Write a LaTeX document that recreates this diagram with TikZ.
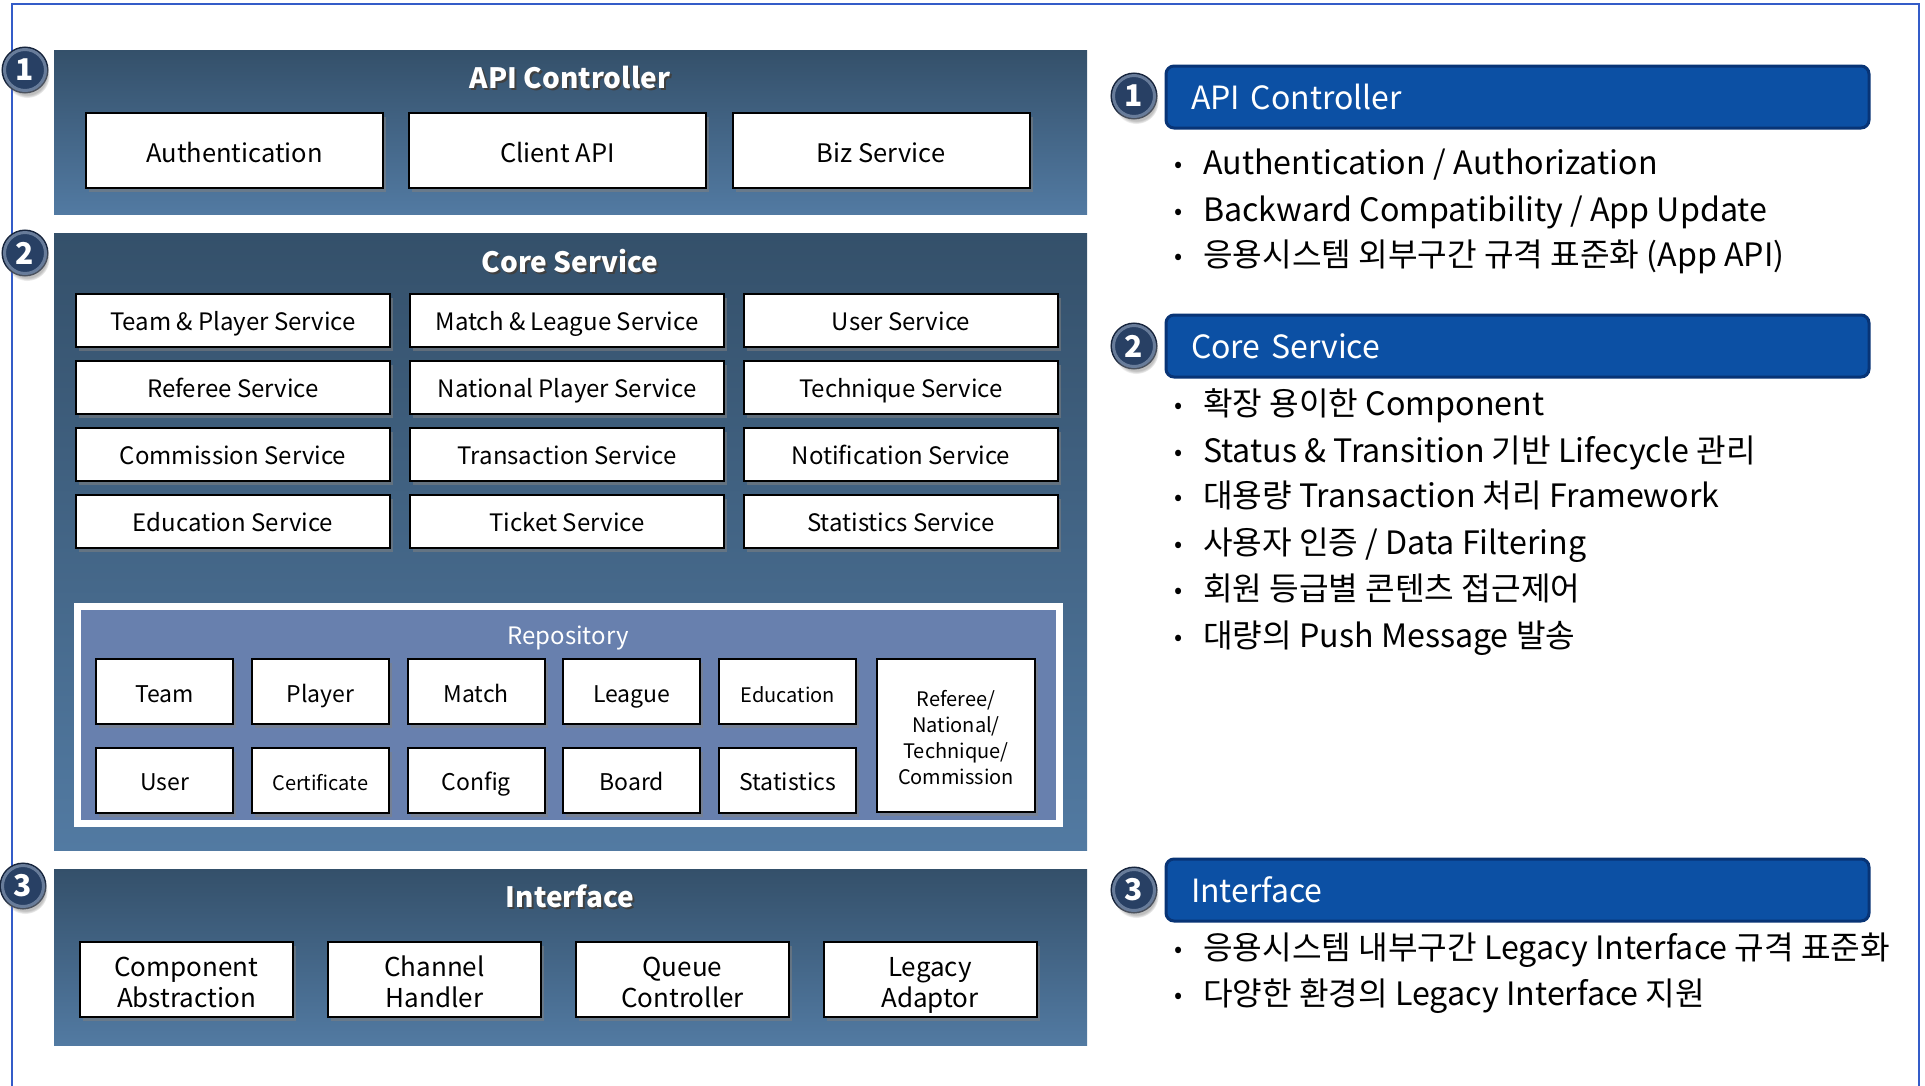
\documentclass[tikz,border=0pt]{standalone}
\usepackage{fontspec}
\setmainfont{Noto Sans CJK KR}
\usetikzlibrary{shadows, positioning, calc}

\definecolor{paneltop}{RGB}{52,80,106}
\definecolor{panelbot}{RGB}{82,122,162}
\definecolor{repofill}{RGB}{104,128,174}
\definecolor{headblue}{RGB}{12,80,164}
\definecolor{headedge}{RGB}{8,52,118}
\definecolor{badgefill}{RGB}{40,64,100}
\definecolor{badgerim}{RGB}{104,124,154}
\definecolor{badgedark}{RGB}{22,36,60}
\definecolor{framebl}{RGB}{52,92,200}

\newcommand{\shtitle}[1]{\makebox[0pt][l]{\raisebox{-2pt}{\hspace{2pt}\color{black!75}#1}}#1}
\newcommand{\bul}{\makebox[29pt][l]{\raisebox{2pt}{\fontsize{24}{24}\selectfont•}}}

\begin{document}
\begin{tikzpicture}[
    x=1pt, y=-1pt,
    panel/.style={rectangle, top color=paneltop, bottom color=panelbot, draw=none, anchor=north west, inner sep=0pt, outer sep=0pt},
    title/.style={text=white, font=\fontsize{28}{32}\selectfont\bfseries},
    wbox/.style={rectangle, draw=black, line width=2pt, fill=white, align=center, inner sep=0pt,
        drop shadow={opacity=0.55, shadow xshift=3pt, shadow yshift=-4pt}},
    apibox/.style={wbox, minimum width=297pt, minimum height=75pt, text height=24pt, text depth=0pt,
        font=\fontsize{25.5}{30}\selectfont},
    svcbox/.style={wbox, minimum width=314pt, minimum height=53pt, text height=21pt, text depth=0pt,
        font=\fontsize{24}{28}\selectfont},
    repobox/.style={wbox, minimum width=137pt, minimum height=65pt, text height=21pt, text depth=0pt,
        font=\fontsize{23}{27}\selectfont},
    ifbox/.style={wbox, minimum width=213pt, minimum height=75pt, text height=55pt, text depth=0pt,
        font=\fontsize{26}{31}\selectfont},
    badge/.style={circle, fill=badgefill, draw=badgerim, line width=3pt, minimum size=41pt, inner sep=0pt,
        preaction={draw=badgedark, line width=6pt},
        text=white, font=\fontsize{30}{32}\selectfont\bfseries,
        circular drop shadow={opacity=0.5, shadow xshift=2pt, shadow yshift=-5pt}},
    headbar/.style={rectangle, rounded corners=8pt, fill=headblue, draw=headedge, line width=3pt,
        anchor=north west, outer sep=0pt, minimum height=62pt, text width=653pt, inner xsep=25pt, align=left,
        text=white, font=\fontsize{32}{36}\selectfont},
    bullet/.style={anchor=base west, inner sep=0pt, font=\fontsize{32.2}{38}\selectfont},
]

\useasboundingbox (0,0) rectangle (1925,1085);
\fill[white] (0,0) rectangle (1925,1085);

% outer frame
\coordinate (fbl) at (12,1095);
\coordinate (ftl) at (12,4);
\coordinate (ftr) at (1919,4);
\coordinate (fbr) at (1919,1095);
\draw[framebl, line width=2pt] (fbl) -- (ftl) -- (ftr) -- (fbr);

% left: layered panels
\node[panel, minimum width=1033pt, minimum height=164pt] (apipanel) at (54,50) {};
\node[panel, minimum width=1033pt, minimum height=617pt] (corepanel) at (54,233) {};
\node[panel, minimum width=1033pt, minimum height=176pt] (ifpanel) at (54,869) {};

\node[badge] (b1) at (25,70) {1};
\node[badge] (b2) at (25,253) {2};
\node[badge] (b3) at (23,886) {3};

\node[title] (apititle) at (570,79) {\shtitle{API Controller}};
\node[apibox] (auth) at (234.5,150.5) {Authentication};
\node[apibox] (client) at (557.5,150.5) {Client API};
\node[apibox] (biz) at (881,150.5) {Biz Service};

\node[title] (coretitle) at (570,262) {\shtitle{Core Service}};
\foreach \name [count=\i from 0] in {Team \& Player Service, Match \& League Service, User Service,
    Referee Service, National Player Service, Technique Service,
    Commission Service, Transaction Service, Notification Service,
    Education Service, Ticket Service, Statistics Service} {
  \pgfmathtruncatemacro{\col}{mod(\i,3)}
  \pgfmathtruncatemacro{\row}{div(\i,3)}
  \node[svcbox] (svc\i) at (233+334*\col, 320+67*\row) {\name};
}

% repository
\node[rectangle, draw=white, line width=7pt, fill=repofill, minimum width=982pt, minimum height=217pt,
    anchor=north west, inner sep=0pt, outer sep=0pt, drop shadow={opacity=0.35, shadow xshift=2pt, shadow yshift=-3pt}]
    (repo) at (77.5,606.5) {};
\node[text=white, font=\fontsize{24}{28}\selectfont] (repotitle) at (568,637.5) {Repository};
\foreach \name [count=\i from 0] in {Team, Player, Match, League, {\fontsize{20}{24}\selectfont Education}} {
  \node[repobox] (ra\i) at (164.5+155.8*\i, 691.5) {\name};
}
\foreach \name [count=\i from 0] in {User, {\fontsize{20}{24}\selectfont Certificate}, Config, Board, Statistics} {
  \node[repobox] (rb\i) at (164.5+155.8*\i, 780) {\name};
}
\node[wbox, minimum width=158pt, minimum height=153pt, text height=97pt, text depth=0pt,
    font=\fontsize{20}{26}\selectfont] (rmix) at (956,735.5)
    {Referee/\\National/\\Technique/\\Commission};

\node[title] (iftitle) at (570,897) {\shtitle{Interface}};
\node[ifbox] (comp) at (186.5,979.5) {Component\\Abstraction};
\node[ifbox] (chan) at (434.5,979.5) {Channel\\Handler};
\node[ifbox] (queue) at (682.5,979.5) {Queue\\Controller};
\node[ifbox] (legacy) at (930,979.5) {Legacy\\Adaptor};

% right: descriptions
\node[badge] (rb1) at (1134,96) {1};
\node[headbar] (h1) at (1166,66) {API Controller};
\node[bullet] (t11) at (1174,174) {\bul Authentication /\hspace{8pt}Authorization};
\node[bullet] (t12) at (1174,221) {\bul Backward Compatibility / App Update};
\node[bullet] (t13) at (1174,266) {\bul 응용시스템 외부구간 규격 표준화 (App API)};

\node[badge] (rb2) at (1134,346) {2};
\node[headbar] (h2) at (1166,315) {Core Service};
\node[bullet] (t21) at (1174,415) {\bul 확장 용이한 Component};
\node[bullet] (t22) at (1174,462) {\bul Status \& Transition 기반 Lifecycle 관리};
\node[bullet] (t23) at (1174,507) {\bul 대용량 Transaction 처리 Framework};
\node[bullet] (t24) at (1174,554) {\bul 사용자 인증 / Data Filtering};
\node[bullet] (t25) at (1174,600) {\bul 회원 등급별 콘텐츠 접근제어};
\node[bullet] (t26) at (1174,647) {\bul 대량의 Push Message 발송};

\node[badge] (rb3) at (1134,890) {3};
\node[headbar] (h3) at (1166,859) {Interface};
\node[bullet] (t31) at (1174,959) {\bul 응용시스템 내부구간 Legacy Interface 규격 표준화};
\node[bullet] (t32) at (1174,1005) {\bul 다양한 환경의 Legacy Interface 지원};

\end{tikzpicture}
\end{document}
